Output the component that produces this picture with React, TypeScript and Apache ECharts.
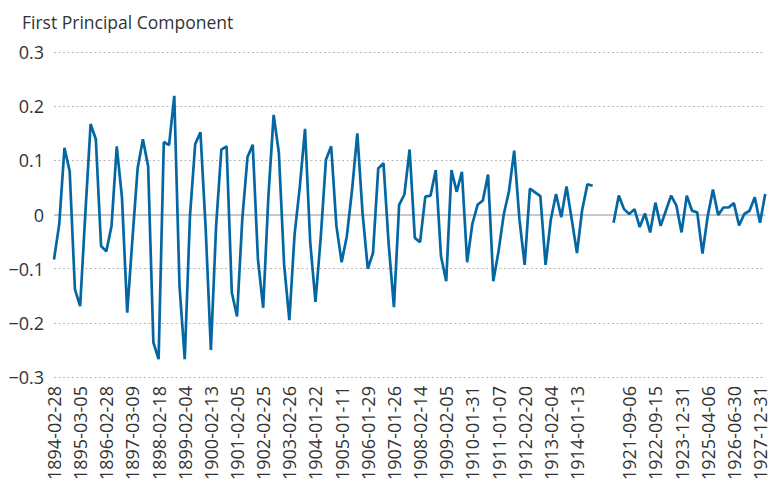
import React, { useEffect, useRef } from "react";
import * as echarts from "echarts";

// Tick labels shown on the x axis (every 5th category); "" marks the wartime break.
const tickDates: string[] = [
  "1894-02-28", "1895-03-05", "1896-02-28", "1897-03-09", "1898-02-18",
  "1899-02-04", "1900-02-13", "1901-02-05", "1902-02-25", "1903-02-26",
  "1904-01-22", "1905-01-11", "1906-01-29", "1907-01-26", "1908-02-14",
  "1909-02-05", "1910-01-31", "1911-01-07", "1912-02-20", "1913-02-04",
  "1914-01-13", "", "1921-09-06", "1922-09-15", "1923-12-31",
  "1925-04-06", "1926-06-30", "1927-12-31",
];

// First principal component values (null = no data during the break)
const pc1Early: (number | null)[] = [
  -0.083, -0.018, 0.123, 0.080, -0.138, -0.169, 0.003, 0.167, 0.139, -0.058,
  -0.068, -0.021, 0.126, 0.031, -0.181, -0.045, 0.086, 0.139, 0.089, -0.236,
  -0.267, 0.134, 0.128, 0.219, -0.132, -0.267, -0.003, 0.130, 0.152, -0.025,
  -0.250, -0.021, 0.120, 0.126, -0.144, -0.188, -0.009, 0.106, 0.129, -0.083,
  -0.172, 0.034, 0.184, 0.114, -0.092, -0.195, -0.037, 0.051, 0.158, -0.052,
  -0.161, -0.043, 0.101, 0.126, -0.021, -0.088, -0.040, 0.046, 0.150, 0.003,
  -0.100, -0.071, 0.085, 0.095, -0.055, -0.171, 0.018, 0.037, 0.120, -0.043,
  -0.051, 0.033, 0.035, 0.082, -0.077, -0.123, 0.082, 0.042, 0.079, -0.088,
  -0.017, 0.018, 0.026, 0.074, -0.123, -0.068, 0.000, 0.043, 0.118, -0.009,
  -0.093, 0.048, 0.041, 0.034, -0.093, -0.009, 0.038, -0.005, 0.052, -0.009,
  -0.071, 0.009, 0.056, 0.053,
];
const pc1Gap: (number | null)[] = [null, null, null];
const pc1Late: (number | null)[] = [
  -0.015, 0.035, 0.010, 0.001, 0.010, -0.023, 0.002, -0.033, 0.022, -0.021,
  0.007, 0.035, 0.017, -0.033, 0.035, 0.007, 0.004, -0.072, -0.003, 0.046,
  -0.001, 0.013, 0.013, 0.021, -0.020, 0.001, 0.007, 0.032, -0.015, 0.038,
];

const yTicks = [-0.3, -0.2, -0.1, 0, 0.1, 0.2, 0.3];

const values = [...pc1Early, ...pc1Gap, ...pc1Late];
const STEP = 5;

function fmt(d: Date): string {
  return d.toISOString().slice(0, 10);
}

// Category names: tick dates at every 5th slot, dates in between spread evenly.
function buildCategories(n: number): string[] {
  const out: string[] = [];
  const avgDays = 73;
  for (let i = 0; i < n; i++) {
    const k = Math.floor(i / STEP);
    const r = i % STEP;
    if (r === 0) {
      out.push(tickDates[k] ?? "");
      continue;
    }
    const a = tickDates[k];
    const b = tickDates[k + 1];
    if (a && b) {
      const ta = Date.parse(a);
      const tb = Date.parse(b);
      out.push(fmt(new Date(ta + ((tb - ta) * r) / STEP)));
    } else if (a) {
      out.push(fmt(new Date(Date.parse(a) + r * avgDays * 864e5)));
    } else if (b) {
      out.push(fmt(new Date(Date.parse(b) - (STEP - r) * avgDays * 864e5)));
    } else {
      out.push("");
    }
  }
  return out;
}

const categories = buildCategories(values.length);

const FONT = "'Open Sans', 'Noto Sans', sans-serif";

export default function App() {
  const ref = useRef<HTMLDivElement>(null);
  useEffect(() => {
    if (!ref.current) return;
    const chart = echarts.init(ref.current, null, { renderer: "svg" });
    chart.setOption({
      animation: false,
      backgroundColor: "#ffffff",
      title: {
        text: "First Principal Component",
        left: 17,
        top: 8,
        textStyle: {
          fontFamily: FONT,
          fontSize: 17.5,
          fontWeight: "normal",
          color: "#333333",
        },
      },
      grid: { left: 54, right: 0, top: 52, bottom: 105, containLabel: false },
      xAxis: {
        type: "category",
        data: categories,
        boundaryGap: false,
        axisLine: { show: false },
        axisTick: { show: false },
        splitLine: { show: false },
        axisLabel: {
          interval: STEP - 1,
          rotate: 90,
          margin: 9,
          fontSize: 18,
          fontFamily: FONT,
          color: "#333333",
        },
      },
      yAxis: [
        {
          type: "value",
          min: yTicks[0],
          max: yTicks[yTicks.length - 1],
          interval: 0.1,
          axisLine: { show: false },
          axisTick: { show: false },
          axisLabel: {
            margin: 10,
            fontSize: 18,
            fontFamily: FONT,
            color: "#333333",
            formatter: (v: number) => {
              const s = Math.abs(v) < 1e-9 ? "0" : (Math.round(v * 10) / 10).toString();
              return s.replace("-", "\u2212");
            },
          },
          splitLine: {
            show: true,
            lineStyle: {
              color: ["#b8b8b8", "#b8b8b8", "#b8b8b8", "transparent", "#b8b8b8", "#b8b8b8", "#b8b8b8"],
              type: [2, 2.5],
              width: 1,
            },
          },
        },
        {
          type: "value",
          min: -0.3,
          max: 0.3,
          interval: 0.3,
          position: "left",
          axisLine: { show: false },
          axisTick: { show: false },
          axisLabel: { show: false },
          splitLine: {
            show: true,
            lineStyle: {
              color: ["transparent", "#c8c8c8", "transparent"],
              type: "solid",
              width: 2,
            },
          },
        },
      ],
      series: [
        {
          type: "line",
          data: values,
          yAxisIndex: 0,
          showSymbol: false,
          symbol: "none",
          connectNulls: false,
          lineStyle: { color: "#0467a3", width: 2.7 },
          itemStyle: { color: "#0467a3" },
          z: 5,
        },
      ],
    });
    return () => chart.dispose();
  }, []);
  return (
    <div
      ref={ref}
      style={{ position: "fixed", left: 0, top: 0, width: 769, height: 483, background: "#fff" }}
    />
  );
}
